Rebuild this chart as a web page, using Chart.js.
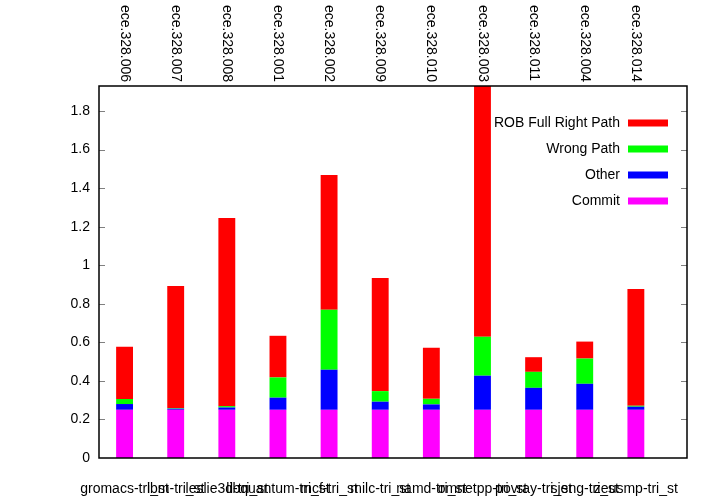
<!DOCTYPE html>
<html><head><meta charset="utf-8">
<script src="https://cdn.jsdelivr.net/npm/chart.js@4"></script>
<style>html,body{margin:0;padding:0;background:#fff}</style>
</head><body>
<canvas id="c" width="713" height="500" style="display:block;width:713px;height:500px"></canvas>
<script>
const categories = ['gromacs-tri_st','lbm-tri_st','leslie3d-tri_st','libquantum-tri_st','mcf-tri_st','milc-tri_st','namd-tri_st','omnetpp-tri_st','povray-tri_st','sjeng-tri_st','zeusmp-tri_st'];
const topLabels = ['ece.328.006','ece.328.007','ece.328.008','ece.328.001','ece.328.002','ece.328.009','ece.328.010','ece.328.003','ece.328.011','ece.328.004','ece.328.014'];
const commit    = [0.25, 0.25, 0.25, 0.25, 0.25, 0.25, 0.25, 0.25, 0.25, 0.25, 0.25];
const other     = [0.030, 0.006, 0.012, 0.063, 0.208, 0.042, 0.028, 0.177, 0.114, 0.135, 0.016];
const wrongPath = [0.026, 0.003, 0.007, 0.105, 0.311, 0.055, 0.029, 0.202, 0.083, 0.131, 0.005];
const robFull   = [0.271, 0.634, 0.976, 0.216, 0.699, 0.587, 0.265, 1.400, 0.076, 0.088, 0.606];
const yTicks = [0, 0.2, 0.4, 0.6, 0.8, 1, 1.2, 1.4, 1.6, 1.8];
const yMax = 1.93;
const seriesNames = ['Commit', 'Other', 'Wrong Path', 'ROB Full Right Path'];
const seriesColors = ['#ff00ff', '#0000ff', '#00ff00', '#ff0000'];
const seriesValues = [commit, other, wrongPath, robFull];

const FONT = '"Liberation Sans", Arial, Helvetica, sans-serif';

const decor = {
  id: 'decor',
  afterDraw(chart) {
    const {ctx, chartArea: a, scales: {x, y}} = chart;
    ctx.save();
    ctx.strokeStyle = '#808080';
    ctx.lineWidth = 1;
    yTicks.forEach(v => {
      if (v === 0) return;
      const py = Math.round(y.getPixelForValue(v)) + 0.5;
      ctx.beginPath();
      ctx.moveTo(a.left, py); ctx.lineTo(a.left + 6, py);
      ctx.moveTo(a.right, py); ctx.lineTo(a.right - 6, py);
      ctx.stroke();
    });
    ctx.strokeStyle = '#000';
    ctx.lineWidth = 1.5;
    ctx.strokeRect(a.left, a.top, a.right - a.left, a.bottom - a.top);
    ctx.fillStyle = '#000';
    ctx.font = '14px ' + FONT;
    ctx.textAlign = 'left';
    ctx.textBaseline = 'middle';
    topLabels.forEach((t, i) => {
      const px = x.getPixelForValue(i);
      ctx.save();
      ctx.translate(px, 5);
      ctx.rotate(Math.PI / 2);
      ctx.fillText(t, 0, 0);
      ctx.restore();
    });
    const items = chart.data.datasets.map(d => ({label: d.label, color: d.backgroundColor})).reverse();
    items.forEach((it, k) => {
      const cy = a.top + 37 + k * 26;
      ctx.fillStyle = '#000';
      ctx.textAlign = 'right';
      ctx.fillText(it.label, a.right - 67, cy);
      ctx.fillStyle = it.color;
      ctx.fillRect(a.right - 59, cy - 3.5, 40, 7);
    });
    ctx.restore();
  }
};

new Chart(document.getElementById('c'), {
  type: 'bar',
  data: {
    datasets: seriesNames.map((name, s) => ({
      label: name,
      data: categories.map((_, i) => ({x: i, y: seriesValues[s][i]})),
      backgroundColor: seriesColors[s],
      borderWidth: 0,
      categoryPercentage: 1,
      barPercentage: 0.33
    }))
  },
  options: {
    responsive: false,
    animation: false,
    devicePixelRatio: 1,
    layout: {padding: {top: 86, right: 26, left: 0, bottom: 0}},
    plugins: {legend: {display: false}, tooltip: {enabled: false}},
    scales: {
      x: {
        type: 'linear',
        stacked: true,
        offset: false,
        min: -0.5,
        max: 11,
        afterBuildTicks: s => { s.ticks = categories.map((_, i) => ({value: i})); },
        afterFit: s => { s.height = 42; },
        grid: {display: false, drawTicks: false},
        border: {display: false},
        ticks: {
          autoSkip: false, maxRotation: 0, minRotation: 0, padding: 23,
          color: '#000', font: {family: FONT, size: 14},
          callback: v => categories[v]
        }
      },
      y: {
        stacked: true,
        min: 0,
        max: yMax,
        afterBuildTicks: s => { s.ticks = yTicks.map(v => ({value: v})); },
        afterFit: s => { s.width = 99; },
        grid: {display: false, drawTicks: false},
        border: {display: false},
        ticks: {
          padding: 9, color: '#000', font: {family: FONT, size: 14},
          callback: v => String(+v.toFixed(1))
        }
      }
    }
  },
  plugins: [decor]
});
</script>
</body></html>
